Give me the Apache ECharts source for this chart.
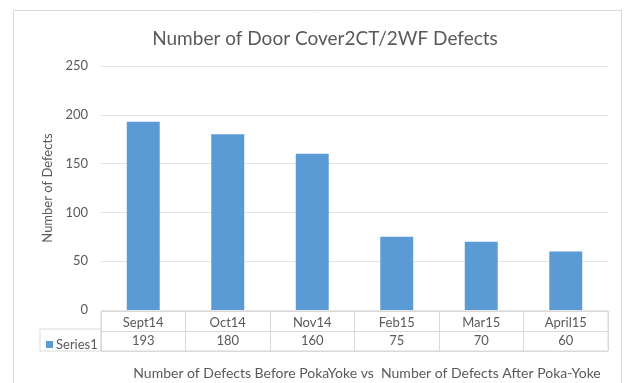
<!DOCTYPE html>
<html>
<head>
<meta charset="utf-8">
<script src="https://cdn.jsdelivr.net/npm/echarts@6/dist/echarts.min.js"></script>
<style>
  html, body { margin: 0; padding: 0; background: #fff; }
  #chart { width: 624px; height: 383px; }
</style>
</head>
<body>
<div id="chart"></div>
<script>
// chart data
var months = ['Sept14', 'Oct14', 'Nov14', 'Feb15', 'Mar15', 'April15']
var defects = [193, 180, 160, 75, 70, 60]
var seriesName = 'Series1'

var font = 'Lato, "Open Sans", sans-serif'
var textColor = '#595959'
var lineColor = '#d9d9d9'
var barColor = '#5b9bd5'

var chart = echarts.init(document.getElementById('chart'))
chart.setOption({
  animation: false,
  textStyle: { fontFamily: font },
  title: [
    {
      text: 'Number of Door Cover2CT/2WF Defects',
      left: 320,
      textAlign: 'center',
      top: 24,
      textStyle: { fontSize: 19, fontWeight: 'normal', color: textColor, fontFamily: font }
    },
    {
      text: 'Number of Defects Before PokaYoke vs  Number of Defects After Poka-Yoke',
      left: 362,
      textAlign: 'center',
      top: 361,
      textStyle: { fontSize: 14, fontWeight: 'normal', color: textColor, fontFamily: font }
    }
  ],
  legend: {
    data: [seriesName],
    left: 41,
    top: 333,
    icon: 'rect',
    itemWidth: 7,
    itemHeight: 7,
    itemGap: 4,
    textStyle: { fontSize: 13, color: textColor, fontFamily: font, padding: [0, 0, 0, -2] }
  },
  grid: [
    // plot area
    { left: 101, right: 16, top: 66, bottom: 73 },
    // data table
    { left: 101, right: 16, top: 311, height: 40, show: true, borderColor: lineColor, borderWidth: 1 },
    // legend cell of the table
    { left: 40, width: 61, top: 329, height: 22, show: true, borderColor: lineColor, borderWidth: 1 }
  ],
  xAxis: [
    {
      type: 'category',
      gridIndex: 0,
      data: months,
      axisLine: { show: false },
      axisTick: { show: false },
      axisLabel: { margin: 6, fontSize: 13, color: textColor, fontFamily: font }
    },
    {
      type: 'category',
      gridIndex: 1,
      data: months,
      axisLine: { show: false },
      axisTick: { show: false },
      splitLine: { show: true, lineStyle: { color: lineColor } },
      axisLabel: {
        inside: true,
        margin: 4,
        fontSize: 13,
        color: textColor,
        fontFamily: font,
        formatter: function (v, i) { return String(defects[i]) }
      }
    },
    { type: 'category', gridIndex: 2, show: false, data: [''] }
  ],
  yAxis: [
    {
      type: 'value',
      gridIndex: 0,
      min: 0,
      max: 250,
      interval: 50,
      name: 'Number of Defects',
      nameLocation: 'middle',
      nameGap: 47,
      nameTextStyle: { fontSize: 13, color: textColor, fontFamily: font },
      axisLabel: { margin: 13, fontSize: 13, color: textColor, fontFamily: font },
      splitLine: { lineStyle: { color: '#e4e4e4' } }
    },
    {
      type: 'category',
      gridIndex: 1,
      data: ['', ''],
      axisLine: { show: false },
      axisTick: { show: false },
      axisLabel: { show: false },
      splitLine: { show: true, lineStyle: { color: lineColor } }
    },
    { type: 'value', gridIndex: 2, show: false }
  ],
  series: [
    {
      name: seriesName,
      type: 'bar',
      xAxisIndex: 0,
      yAxisIndex: 0,
      data: defects,
      barWidth: '39%',
      itemStyle: { color: barColor }
    }
  ],
  graphic: [
    {
      type: 'rect',
      shape: { x: 13.5, y: 10.5, width: 608, height: 390 },
      style: { fill: 'none', stroke: lineColor, lineWidth: 1 },
      silent: true,
      z: -1
    }
  ]
})
</script>
</body>
</html>
